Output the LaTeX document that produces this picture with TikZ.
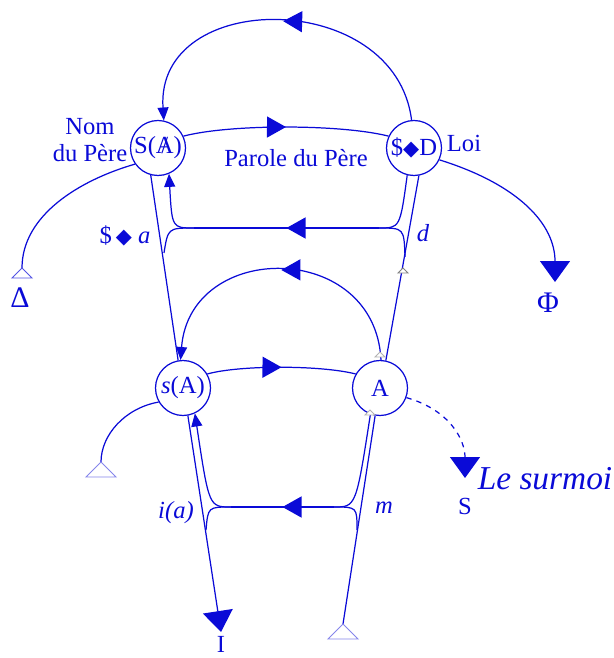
\documentclass[tikz,border=0pt]{standalone}
\usepackage{fontspec}
\setmainfont{Liberation Serif}
\newfontfamily\symbolfont{DejaVu Sans}
\usetikzlibrary{arrows.meta,decorations.markings}
\definecolor{graphblue}{RGB}{10,10,215}
\newcommand{\barredS}{\$}
\newcommand{\barredA}{\ooalign{A\cr\hss/\hss}}
\newcommand{\losange}{{\symbolfont\scalebox{0.85}{◆}}}
\tikzset{
  line/.style={graphblue, line width=0.7pt},
  mid arrow/.style={postaction={decorate},decoration={markings,
    mark=at position 0.5 with {\arrow{Triangle[length=0.38cm,width=0.42cm]}}}},
  small tip/.style={-{Triangle[length=0.26cm,width=0.22cm]}},
  big tip/.style={-{Triangle[length=0.42cm,width=0.6cm]}},
  place/.style={circle, draw=graphblue, line width=0.7pt, minimum size=1.1cm, inner sep=0pt, text=graphblue, font=\fontsize{14}{15}\selectfont},
  lbl/.style={text=graphblue, font=\fontsize{14}{15}\selectfont, inner sep=1pt},
}
\newcommand{\hollowtri}[3]{% position, half width, height
  \draw[#3, line width=0.5pt, fill=white] #1 -- ++(-#2,#2*1.0) -- ++(2*#2,0) -- cycle;}
\begin{document}
\begin{tikzpicture}[x=0.02cm,y=-0.02cm]
  \useasboundingbox (0,0) rectangle (613,658);

  % the four places
  \node[place] (SA) at (158,148) {S(\barredA)};
  \node[place] (SD) at (414,148) {\barredS\losange D};
  \node[place] (sA) at (183,388) {\textit{s}(A)};
  \node[place] (A)  at (380,388) {A};

  % free ends
  \coordinate (delta) at (22,268);
  \coordinate (phi) at (555,282);
  \coordinate (lefttri) at (101,462);
  \coordinate (surmoi) at (465,478);
  \coordinate (imag) at (221,632);
  \coordinate (bottri) at (343,624);

  % upper level
  \draw[line, small tip, mid arrow] (SD.95) .. controls (395,-12) and (155,-12) .. (SA.78);
  \draw[line, mid arrow] (SA.25) .. controls (230,124) and (340,124) .. (SD.155);
  \draw[line] (SA.215) .. controls (80,180) and (22,215) .. (delta);
  \draw[line, big tip] (SD.-25) .. controls (520,185) and (555,225) .. (phi);
  \draw[line] (SA.255) -- (sA.100);
  \draw[line] (SD.280) -- (A.78);
  \draw[line, small tip] (SD.256) .. controls (400,228) .. (379,228) -- (194,228) .. controls (172,228) .. (SA.-67);
  \draw[line, mid arrow] (379,228) -- (194,228);
  \draw[line] (194,228) .. controls (168,228) .. (164,253);
  \draw[line] (379,228) .. controls (404,228) .. (405,257);

  % lower level
  \draw[line, small tip, mid arrow] (A.88) .. controls (375,240) and (190,240) .. (sA.95);
  \draw[line, mid arrow] (sA.30) .. controls (240,365) and (320,365) .. (A.150);
  \draw[line] (sA.210) .. controls (125,408) and (101,435) .. (lefttri);
  \draw[line, big tip, dashed] (A.-20) .. controls (450,410) and (465,440) .. (surmoi);
  \draw[line, big tip] (sA.-80) -- (imag);
  \draw[line] (A.-100) -- (bottri);
  \draw[line, small tip] (A.-110) .. controls (356,507) .. (334,507) -- (231,507) .. controls (209,507) .. (sA.-65);
  \draw[line, mid arrow] (334,507) -- (231,507);
  \draw[line] (231,507) .. controls (208,507) .. (206,530);
  \draw[line] (334,507) .. controls (357,507) .. (357,530);

  % hollow triangles
  \hollowtri{(delta)}{10}{graphblue!70}
  \hollowtri{(lefttri)}{15}{graphblue!50}
  \hollowtri{(bottri)}{15}{graphblue!50}
  \hollowtri{(403,268)}{5}{gray}
  \hollowtri{(380,352)}{5}{gray!60}
  \hollowtri{(370,410)}{5}{gray!60}

  % labels
  \node[lbl, align=center] (nom) at (90,140) {Nom\\du Père};
  \node[lbl] (loi) at (464,143) {Loi};
  \node[lbl] (parole) at (296,158) {Parole du Père};
  \node[lbl, font=\fontsize{17}{18}\selectfont] (deltalbl) at (20,298) {Δ};
  \node[lbl, font=\fontsize{17}{18}\selectfont] (philbl) at (548,303) {Φ};
  \node[lbl] (desir) at (125,236) {\barredS\,\losange\ \textit{a}};
  \node[lbl] (dlbl) at (423,233) {\textit{d}};
  \node[lbl] (ialbl) at (176,513) {\textit{i(a)}};
  \node[lbl] (mlbl) at (384,508) {\textit{m}};
  \node[lbl] (slbl) at (465,506) {S};
  \node[lbl] (ilbl) at (221,644) {I};
  \node[lbl, font=\fontsize{19}{20}\selectfont\itshape] (surmoilbl) at (545,479) {Le surmoi};
\end{tikzpicture}
\end{document}
